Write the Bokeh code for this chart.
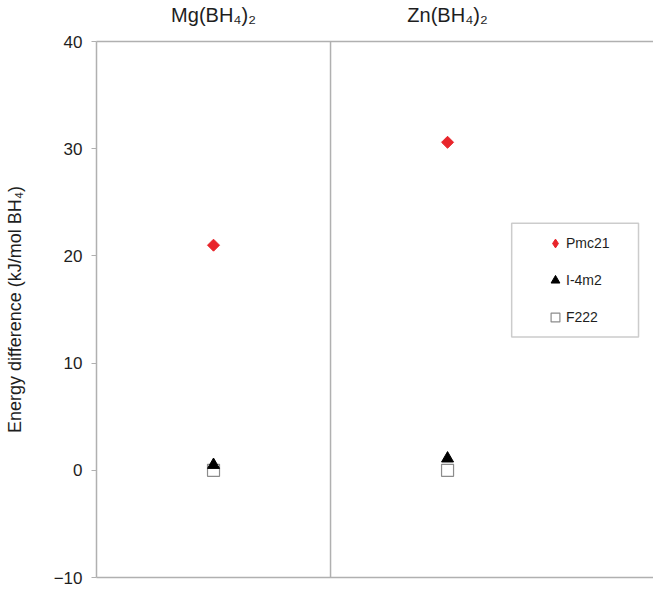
import math
from bokeh.plotting import figure
from bokeh.models import (Legend, LegendItem, LinearAxis, FixedTicker, Span,
                          BoxAnnotation, Range1d, ColumnDataSource)
from bokeh.embed import file_html
from bokeh.resources import INLINE

# ---- data ----
compounds = ["Mg(BH₄)₂", "Zn(BH₄)₂"]
series = ["Pmc21", "I-4m2", "F222"]
pmc21 = [21.0, 30.6]
i4m2 = [0.5, 1.1]
f222 = [0.0, 0.0]
y_ticks = [-10, 0, 10, 20, 30, 40]

xpos = [i + 0.5 for i in range(len(compounds))]

FONT = "Liberation Sans"
AXIS_GRAY = "#b0b0b0"
TEXT = "#1e1e1e"

p = figure(width=653, height=590, output_backend="svg", toolbar_location=None,
           x_range=Range1d(0, 2.38), y_range=Range1d(-10, 40),
           x_axis_location=None, y_axis_location=None,
           min_border_left=96, min_border_right=0, min_border_top=40,
           min_border_bottom=13)
p.outline_line_color = None
p.grid.visible = False
p.background_fill_color = "white"

# left axis
yax = LinearAxis(ticker=FixedTicker(ticks=y_ticks))
yax.axis_line_color = AXIS_GRAY
yax.axis_line_width = 1.5
yax.major_tick_line_color = AXIS_GRAY
yax.major_tick_in = 0
yax.major_tick_out = 5
yax.minor_tick_line_color = None
yax.major_label_text_font = FONT
yax.major_label_text_font_size = "17px"
yax.major_label_text_color = TEXT
yax.major_label_standoff = 9
yax.axis_label = "Energy difference (kJ/mol BH₄)"
yax.axis_label_text_font = FONT
yax.axis_label_text_font_size = "18px"
yax.axis_label_text_font_style = "normal"
yax.axis_label_text_color = TEXT
yax.axis_label_standoff = 26
p.add_layout(yax, "left")

# top axis with compound names
tax = LinearAxis(ticker=FixedTicker(ticks=xpos),
                 major_label_overrides={x: c for x, c in zip(xpos, compounds)})
tax.axis_line_color = AXIS_GRAY
tax.axis_line_width = 1.5
tax.major_tick_line_color = None
tax.minor_tick_line_color = None
tax.major_label_text_font = FONT
tax.major_label_text_font_size = "20px"
tax.major_label_text_color = TEXT
tax.major_label_standoff = 10
p.add_layout(tax, "above")

# bottom axis line only
bax = LinearAxis(ticker=FixedTicker(ticks=[]))
bax.axis_line_color = AXIS_GRAY
bax.axis_line_width = 1.5
bax.major_tick_line_color = None
bax.minor_tick_line_color = None
bax.major_label_text_font_size = "0px"
p.add_layout(bax, "below")

# divider between compounds
for a, b in zip(xpos[:-1], xpos[1:]):
    p.add_layout(Span(location=(a + b) / 2, dimension="height",
                      line_color=AXIS_GRAY, line_width=1.5))

src = ColumnDataSource(dict(x=xpos, pmc21=pmc21, i4m2=i4m2, f222=f222))

r1 = p.scatter("x", "pmc21", source=src, marker="square", angle=math.pi / 4,
               size=8.5, fill_color="#e8252b", line_color="#e8252b")
r3 = p.scatter("x", "f222", source=src, marker="square", size=12,
               fill_color="white", line_color="#8c8c8c", line_width=1.2)
r2 = p.scatter("x", "i4m2", source=src, marker="triangle", size=12,
               fill_color="black", line_color="black")

# legend-only glyph for the diamond (legend ignores marker angle); NaN point is not drawn
nan_src = ColumnDataSource(dict(x=[float("nan")], y=[float("nan")]))
r1_leg = p.scatter("x", "y", source=nan_src, marker="diamond",
                   fill_color="#e8252b", line_color="#e8252b")

# legend frame
p.add_layout(BoxAnnotation(left=1.774, right=2.316, top=23.05, bottom=12.44,
                           fill_color="white", fill_alpha=1.0,
                           line_color="#555555", line_width=1.5))

legend = Legend(items=[LegendItem(label=series[0], renderers=[r1_leg]),
                       LegendItem(label=series[1], renderers=[r2]),
                       LegendItem(label=series[2], renderers=[r3])],
                location=(448, 249), orientation="vertical",
                padding=0, margin=0, spacing=15,
                glyph_width=22, glyph_height=22, label_height=22,
                label_standoff=-4,
                border_line_color=None, background_fill_alpha=0,
                label_text_font=FONT, label_text_font_size="14px",
                label_text_color=TEXT)
p.add_layout(legend, "center")

open("out.html", "w").write(file_html(p, INLINE))
